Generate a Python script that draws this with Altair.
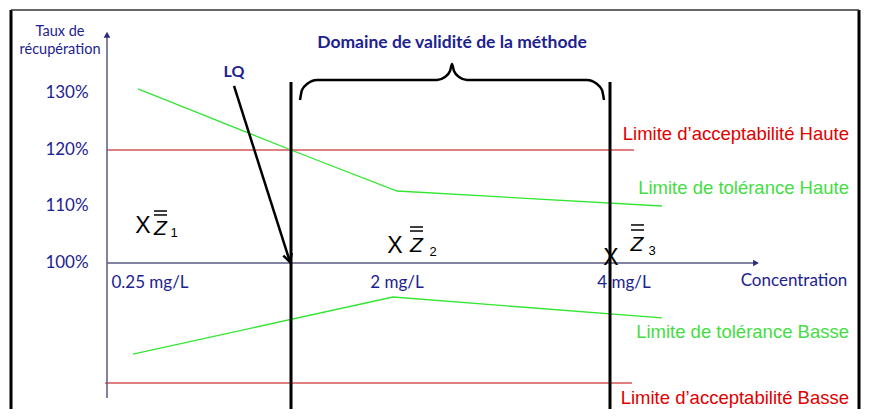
import altair as alt
import pandas as pd

# ---- schematic coordinates: x = position along concentration axis (schematic units),
# ---- y = recovery rate in %
X_MIN, X_MAX = -99, 754
Y_MIN, Y_MAX = 74.16, 145.13

# tolerance limits (green)
tol_high_x = [31, 184, 290, 555]
tol_high_y = [130.8, 120.0, 112.74, 110.09]
tol_low_x = [26, 286, 555]
tol_low_y = [83.89, 93.98, 90.27]

# acceptability limits (red)
acc_high = {"x": 0, "x2": 527, "y": 120.0}
acc_low = {"x": -2, "x2": 525, "y": 78.76}

# validity domain bounds (LQ and upper bound)
bound_x = [184, 503]
bound_top, bound_bottom = 132.04, Y_MIN

# y tick labels
ytick_vals = [130, 120, 110, 100]
ytick_labels = ["130%", "120%", "110%", "100%"]

# x tick labels
xtick_pos = [43, 290, 517]
xtick_labels = ["0.25 mg/L", "2 mg/L", "4 mg/L"]

# brace
brace_x = [193, 195, 200, 210, 330, 338, 343, 345, 347, 352, 360, 480, 490, 495, 497]
brace_y = [128.85, 130.62, 131.68, 132.39, 132.39, 132.92, 133.98, 135.22,
           133.98, 132.92, 132.39, 132.39, 131.68, 130.62, 128.85]

# mean markers Z1, Z2, Z3
z_idx = ["1", "2", "3"]
z_cross_x = [36, 288, 504]
z_cross_y = [106.55, 102.92, 100.88]
z_letter_x = [53.5, 309.5, 530]
z_letter_y = [105.93, 103.01, 103.19]
z_bar_x1 = [47, 303, 524]
z_bar_x2 = [60, 316, 537]
z_bar_y_top = [109.2, 106.37, 106.73]
z_bar_y_low = [108.5, 105.66, 105.84]
z_sub_x = [67, 326, 545]
z_sub_y = [105.31, 101.95, 102.12]

# right-hand legend labels
legend_labels = ["Limite d\u2019acceptabilité Haute", "Limite de tolérance Haute",
                 "Limite de tolérance Basse", "Limite d\u2019acceptabilité Basse"]
legend_y = [122.83, 113.36, 87.70, 76.11]
legend_kind = ["acc", "tol", "tol", "acc"]
legend_x = 742

NAVY = "#1c2290"
AXIS = "#5a5a82"
GREEN_LINE = "#33e633"
GREEN_TXT = "#44dd44"
RED_LINE = "#c00000"
RED_TXT = "#e00000"

xs = alt.Scale(domain=[X_MIN, X_MAX], nice=False, zero=False)
ys = alt.Scale(domain=[Y_MIN, Y_MAX], nice=False, zero=False)


def X(f="x"):
    return alt.X(f"{f}:Q", scale=xs, axis=None)


def Y(f="y"):
    return alt.Y(f"{f}:Q", scale=ys, axis=None)


layers = []

# frame
frame_sides = pd.DataFrame({"x": [-96, 752], "y": [144.78, 144.78], "y2": [Y_MIN, Y_MIN]})
layers.append(alt.Chart(frame_sides).mark_rule(color="black", strokeWidth=3, clip=True).encode(
    x=X(), y=Y(), y2="y2:Q"))
frame_top = pd.DataFrame({"x": [-96], "x2": [752], "y": [144.78]})
layers.append(alt.Chart(frame_top).mark_rule(color="#333333", strokeWidth=1.5).encode(
    x=X(), x2="x2:Q", y=Y()))

# acceptability lines
acc_df = pd.DataFrame([acc_high, acc_low])
layers.append(alt.Chart(acc_df).mark_rule(color=RED_LINE, strokeWidth=1.2).encode(
    x=X(), x2="x2:Q", y=Y()))

# axes
ax_df = pd.DataFrame({"x": [0], "x2": [650], "y": [100]})
layers.append(alt.Chart(ax_df).mark_rule(color=AXIS, strokeWidth=1.5).encode(x=X(), x2="x2:Q", y=Y()))
ay_df = pd.DataFrame({"x": [0], "y": [76.11], "y2": [140.5]})
layers.append(alt.Chart(ay_df).mark_rule(color=AXIS, strokeWidth=1.5).encode(x=X(), y=Y(), y2="y2:Q"))
arr_r = pd.DataFrame({"x": [649], "y": [100]})
layers.append(alt.Chart(arr_r).mark_point(shape="triangle-right", filled=True, color="#2a2a80",
                                           size=45, opacity=1).encode(x=X(), y=Y()))
arr_u = pd.DataFrame({"x": [0], "y": [140.4]})
layers.append(alt.Chart(arr_u).mark_point(shape="triangle-up", filled=True, color="#2a2a80",
                                           size=45, opacity=1).encode(x=X(), y=Y()))

# tolerance lines
tol_df = pd.concat([
    pd.DataFrame({"x": tol_high_x, "y": tol_high_y, "s": "haute"}),
    pd.DataFrame({"x": tol_low_x, "y": tol_low_y, "s": "basse"}),
])
layers.append(alt.Chart(tol_df).mark_line(color=GREEN_LINE, strokeWidth=1.3).encode(
    x=X(), y=Y(), detail="s:N"))

# bounds
b_df = pd.DataFrame({"x": bound_x, "y": [bound_top] * 2, "y2": [bound_bottom] * 2})
layers.append(alt.Chart(b_df).mark_rule(color="black", strokeWidth=3).encode(x=X(), y=Y(), y2="y2:Q"))

# LQ arrow
lq_df = pd.DataFrame({"x": [127], "y": [131.33], "x2": [183], "y2": [100.18]})
layers.append(alt.Chart(lq_df).mark_rule(color="black", strokeWidth=2.5).encode(
    x=X(), y=Y(), x2="x2:Q", y2="y2:Q"))
lq_head = pd.DataFrame({"x": [183], "y": [100.18]})
layers.append(alt.Chart(lq_head).mark_point(shape="M -0.55 -1 L 0 0 L 0.55 -1", filled=False,
                                             color="black", strokeWidth=2.5, size=260, angle=342,
                                             opacity=1).encode(x=X(), y=Y()))
layers.append(alt.Chart(pd.DataFrame({"x": [127], "y": [133.81], "t": ["LQ"]})).mark_text(
    font="Lato", fontSize=16, fontWeight="bold", color=NAVY, baseline="middle").encode(
    x=X(), y=Y(), text="t:N"))

# brace
br_df = pd.DataFrame({"x": brace_x, "y": brace_y})
layers.append(alt.Chart(br_df).mark_line(color="black", strokeWidth=2.5, interpolate="monotone").encode(
    x=X(), y=Y()))

# title
layers.append(alt.Chart(pd.DataFrame({"x": [345], "y": [138.94], "t": ["Domaine de validité de la méthode"]})).mark_text(
    font="Lato", fontSize=17.5, fontWeight="bold", color=NAVY, baseline="middle").encode(
    x=X(), y=Y(), text="t:N"))

# y tick labels & title
yt_df = pd.DataFrame({"x": [-40] * 4, "y": ytick_vals, "t": ytick_labels})
layers.append(alt.Chart(yt_df).mark_text(font="Lato", fontSize=17, color=NAVY, baseline="middle").encode(
    x=X(), y=Y(), text="t:N"))
ytitle = pd.DataFrame({"x": [-47, -47], "y": [140.88, 137.70], "t": ["Taux de", "récupération"]})
layers.append(alt.Chart(ytitle).mark_text(font="Lato", fontSize=14.5, color=NAVY, baseline="middle").encode(
    x=X(), y=Y(), text="t:N"))

# x tick labels & title
xt_df = pd.DataFrame({"x": xtick_pos + [687], "y": [96.46] * 3 + [96.81],
                      "t": xtick_labels + ["Concentration"]})
layers.append(alt.Chart(xt_df).mark_text(font="Lato", fontSize=17, color=NAVY, baseline="middle").encode(
    x=X(), y=Y(), text="t:N"))

# Z markers
zc = pd.DataFrame({"x": z_cross_x, "y": z_cross_y, "t": ["X"] * 3})
layers.append(alt.Chart(zc).mark_text(font="Liberation Sans", fontSize=23, color="black",
                                      baseline="middle").encode(x=X(), y=Y(), text="t:N"))
zl = pd.DataFrame({"x": z_letter_x, "y": z_letter_y, "t": ["Z"] * 3})
layers.append(alt.Chart(zl).mark_text(font="Liberation Sans", fontSize=21, fontStyle="italic",
                                      color="black", baseline="middle").encode(x=X(), y=Y(), text="t:N"))
zb = pd.DataFrame({"x": z_bar_x1 * 2, "x2": z_bar_x2 * 2, "y": z_bar_y_top + z_bar_y_low})
layers.append(alt.Chart(zb).mark_rule(color="black", strokeWidth=1.5).encode(x=X(), x2="x2:Q", y=Y()))
zs = pd.DataFrame({"x": z_sub_x, "y": z_sub_y, "t": z_idx})
layers.append(alt.Chart(zs).mark_text(font="Liberation Sans", fontSize=13, color="black",
                                      baseline="middle").encode(x=X(), y=Y(), text="t:N"))

# right legend labels
lg = pd.DataFrame({"x": [legend_x] * 4, "y": legend_y, "t": legend_labels, "k": legend_kind})
layers.append(alt.Chart(lg).mark_text(font="Liberation Sans", fontSize=18.5, align="right",
                                      baseline="middle").encode(
    x=X(), y=Y(), text="t:N",
    color=alt.Color("k:N", scale=alt.Scale(domain=["acc", "tol"], range=[RED_TXT, GREEN_TXT]), legend=None)))

chart = alt.layer(*layers).properties(
    width=853, height=401, padding=0, autosize=alt.AutoSizeParams(type="none"),
    background="white"
).configure_view(stroke=None)

chart.save("out.html", embed_options={"renderer": "svg", "actions": False})
